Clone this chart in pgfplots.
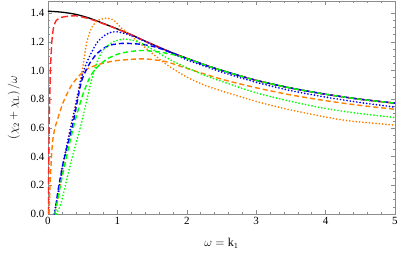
\documentclass[border=0pt]{standalone}
\usepackage{fontspec}
\setmainfont{Liberation Serif}
\usepackage{pgfplots}
\pgfplotsset{compat=1.18}
\definecolor{mred}{rgb}{1,0.15,0.15}
\definecolor{morange}{rgb}{1,0.5,0}
\definecolor{mblue}{rgb}{0,0,1}
\definecolor{mgreen}{rgb}{0,1,0}
\definecolor{framegray}{gray}{0.55}
\tikzset{
  mdashed/.style={line width=1.4pt, dash pattern=on 5pt off 3pt},
  mldashed/.style={line width=1.4pt, dash pattern=on 7pt off 3pt},
  mdotted/.style={line width=1.9pt, line cap=round, dash pattern=on 0pt off 3.3pt},
}
\begin{document}
\begin{tikzpicture}
\path[use as bounding box] (-48pt,-41pt) rectangle (351pt,214pt);
\begin{axis}[
  at={(0pt,0pt)}, anchor=south west,
  scale only axis, width=347pt, height=213pt,
  xmin=0, xmax=5, ymin=0, ymax=1.485,
  axis line style={framegray, line width=0.6pt},
  tick style={framegray, line width=0.5pt},
  tick align=inside,
  major tick length=4pt, minor tick length=2pt,
  xtick={0,1,2,3,4,5}, ytick={0,0.2,0.4,0.6,0.8,1.0,1.2,1.4},
  minor x tick num=4, minor y tick num=3,
  yticklabel style={/pgf/number format/.cd, fixed, fixed zerofill, precision=1},
  /pgf/number format/assume math mode=true,
  ticklabel style={font=\fontsize{11}{13}\selectfont, black},
  xlabel={$\omega=\mathrm{k}_1$},
  ylabel={$\left(\chi_2+\chi_{\mathrm{L}}\right)/\omega$},
  label style={font=\fontsize{12}{14}\selectfont},
  xlabel style={at={(axis description cs:0.5,-0.136)}, anchor=center},
  ylabel style={at={(axis description cs:-0.098,0.5)}, anchor=center},
  clip=true,
]
% black solid
\addplot[black, line width=1.3pt, smooth] coordinates {
(0,1.414) (0.2,1.407) (0.4,1.392) (0.6,1.365) (0.8,1.328) (1.0,1.29) (1.2,1.25) (1.4,1.205) (1.6,1.163) (1.8,1.122) (2.0,1.085) (2.2,1.05) (2.4,1.017) (2.6,0.987) (3.0,0.932) (3.5,0.878) (4.0,0.835) (4.5,0.8) (5.0,0.773)};
% red dashed
\addplot[mred, mldashed, smooth, tension=0.4] coordinates {
(0.005,0) (0.01,0.3) (0.02,0.7) (0.035,1.0) (0.055,1.2) (0.08,1.3) (0.12,1.35) (0.2,1.372) (0.4,1.382) (0.6,1.36) (0.8,1.326) (1.0,1.289) (1.2,1.25) (1.4,1.205) (1.6,1.163) (1.8,1.122) (2.0,1.085) (2.2,1.05) (2.4,1.017) (2.6,0.987) (3.0,0.932) (3.5,0.878) (4.0,0.835) (4.5,0.8) (5.0,0.773)};
% orange dashed
\addplot[morange, mdashed, smooth, tension=0.4] coordinates {
(0.015,0) (0.03,0.2) (0.05,0.4) (0.07,0.52) (0.1,0.6) (0.15,0.68) (0.22,0.78) (0.33,0.89) (0.46,0.97) (0.6,1.02) (0.8,1.052) (1.0,1.07) (1.37,1.082) (1.7,1.062) (2.0,1.015) (2.5,0.94) (3.0,0.88) (3.5,0.83) (4.0,0.79) (4.5,0.757) (5.0,0.73)};
% orange dotted
\addplot[morange, mdotted, smooth, tension=0.4] coordinates {
(0.09,0) (0.15,0.12) (0.22,0.34) (0.3,0.55) (0.4,0.77) (0.5,1.02) (0.56,1.2) (0.63,1.3) (0.72,1.35) (0.85,1.365) (0.95,1.35) (1.05,1.3) (1.2,1.24) (1.4,1.16) (1.7,1.045) (2.0,0.955) (2.33,0.885) (3.0,0.785) (3.5,0.725) (4.25,0.655) (5.0,0.62)};
% blue dotted
\addplot[mblue, mdotted, smooth, tension=0.4] coordinates {
(0.09,0) (0.15,0.16) (0.22,0.36) (0.3,0.54) (0.4,0.76) (0.5,0.98) (0.6,1.1) (0.7,1.19) (0.8,1.24) (0.9,1.265) (1.0,1.27) (1.2,1.245) (1.4,1.203) (1.6,1.16) (1.8,1.117) (2.0,1.075) (2.5,0.99) (3.0,0.918) (3.5,0.86) (4.0,0.815) (4.5,0.777) (5.0,0.745)};
% blue dashed
\addplot[mblue, mdashed, smooth, tension=0.4] coordinates {
(0.1,0) (0.14,0.15) (0.22,0.36) (0.36,0.63) (0.48,0.92) (0.6,1.05) (0.7,1.115) (0.8,1.155) (0.9,1.178) (1.08,1.19) (1.3,1.185) (1.5,1.17) (1.7,1.14) (1.9,1.103) (2.2,1.05) (2.4,1.017) (2.6,0.987) (3.0,0.932) (3.5,0.878) (4.0,0.835) (4.5,0.8) (5.0,0.773)};
% green dashed
\addplot[mgreen, mdashed, smooth, tension=0.4] coordinates {
(0.1,0) (0.2,0.25) (0.3,0.47) (0.39,0.65) (0.5,0.83) (0.6,0.95) (0.7,1.02) (0.85,1.08) (1.04,1.12) (1.33,1.14) (1.6,1.13) (1.9,1.1) (2.2,1.05) (2.4,1.017) (2.6,0.987) (3.0,0.932) (3.5,0.878) (4.0,0.835) (4.5,0.8) (5.0,0.773)};
% green dotted
\addplot[mgreen, mdotted, smooth, tension=0.4] coordinates {
(0.12,0) (0.19,0.08) (0.33,0.36) (0.48,0.63) (0.62,0.92) (0.7,1.05) (0.79,1.14) (0.94,1.2) (1.1,1.22) (1.3,1.2) (1.5,1.15) (1.8,1.065) (2.19,0.98) (2.5,0.925) (3.0,0.845) (3.5,0.785) (4.0,0.735) (4.5,0.7) (5.0,0.673)};
\end{axis}
\end{tikzpicture}
\end{document}
